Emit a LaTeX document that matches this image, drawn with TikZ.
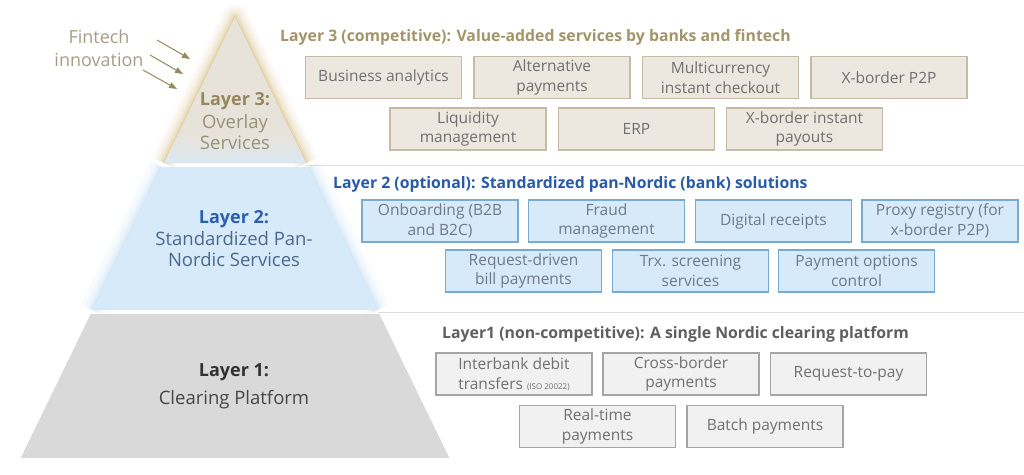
\documentclass[tikz,border=0pt]{standalone}
\usepackage{fontspec}
\setmainfont{Open Sans}
\usetikzlibrary{arrows.meta}
\definecolor{lthreefill}{RGB}{232,227,218}
\definecolor{lthreeglow}{RGB}{210,182,112}
\definecolor{lthreeboxfill}{RGB}{236,232,224}
\definecolor{lthreeboxdraw}{RGB}{196,186,165}
\definecolor{lthreehead}{RGB}{163,148,105}
\definecolor{lthreetitle}{RGB}{150,135,95}
\definecolor{lthreesub}{RGB}{155,145,118}
\definecolor{ltwofill}{RGB}{215,234,249}
\definecolor{ltwoglow}{RGB}{185,218,245}
\definecolor{ltwoboxfill}{RGB}{214,234,250}
\definecolor{ltwoboxdraw}{RGB}{120,170,210}
\definecolor{ltwohead}{RGB}{40,90,170}
\definecolor{ltwotitle}{RGB}{45,95,175}
\definecolor{ltwosub}{RGB}{75,105,140}
\definecolor{lonefill}{RGB}{217,217,217}
\definecolor{loneboxfill}{RGB}{241,241,241}
\definecolor{loneboxdraw}{RGB}{165,165,165}
\definecolor{lonehead}{RGB}{95,95,95}
\definecolor{lonetitle}{RGB}{50,50,50}
\definecolor{lonesub}{RGB}{70,70,70}
\definecolor{boxtext}{RGB}{112,112,112}
\definecolor{ltwoboxtext}{RGB}{110,122,135}
\definecolor{fintechtext}{RGB}{165,158,135}
\definecolor{arrowcol}{RGB}{150,138,95}
\definecolor{sepline}{RGB}{222,222,222}
\tikzset{
  svcbox/.style={rectangle, minimum width=156pt, minimum height=42pt, inner sep=0pt,
    align=center, font=\fontsize{15.5}{19.5}\selectfont, line width=1.2pt},
  lthreebox/.style={svcbox, fill=lthreeboxfill, draw=lthreeboxdraw, text=boxtext},
  ltwobox/.style={svcbox, fill=ltwoboxfill, draw=ltwoboxdraw, text=ltwoboxtext},
  lonebox/.style={svcbox, fill=loneboxfill, draw=loneboxdraw, text=boxtext},
  headtext/.style={anchor=west, inner sep=0pt, font=\fontsize{15.8}{19}\selectfont\bfseries},
  pyrtitle/.style={inner sep=0pt, font=\fontsize{18}{20}\selectfont\bfseries},
  pyrsub/.style={inner sep=0pt, align=center, font=\fontsize{18.5}{20.5}\selectfont},
  innovarrow/.style={draw=arrowcol, line width=1pt, -{Triangle[length=8pt,width=6pt]}}
}
\begin{document}
\begin{tikzpicture}[x=1pt,y=-1pt]
\useasboundingbox (0,0) rectangle (1024,474);
\fill[white] (0,0) rectangle (1024,474);

% separator lines
\draw[sepline, line width=1pt] (306,165) -- (1024,165);
\draw[sepline, line width=1pt] (378,312) -- (1024,312);

% glow layer 3
\foreach \w/\o in {26/0.06,20/0.08,14/0.1,9/0.14,5/0.2,2/0.3}
  \draw[lthreeglow, line width=\w pt, opacity=\o, line join=round]
    (164,163) -- (235,17) -- (306,163);
% glow layer 2
\foreach \w/\o in {26/0.08,18/0.1,12/0.14,7/0.18,3/0.25}
  \draw[ltwoglow, line width=\w pt, opacity=\o]
    (92.6,310) -- (162,167) (308,167) -- (377.4,310);

% layer 3
\fill[lthreefill] (235,17) -- (306,163) -- (164,163) -- cycle;
\begin{scope}
  \clip (235,17) -- (306,163) -- (164,163) -- cycle;
  \shade[top color=lthreefill, bottom color=ltwofill!80!lthreefill] (150,135) rectangle (320,164);
\end{scope}
% layer 2
\fill[ltwofill] (162,167) -- (308,167) -- (377.4,310) -- (92.6,310) -- cycle;
% layer 1
\fill[lonefill] (90.7,314) -- (379.3,314) -- (449.3,458) -- (20.7,458) -- cycle;

% pyramid labels
\node[pyrtitle, text=lthreetitle] (t3) at (235,101) {Layer 3:};
\node[pyrsub, text=lthreesub] (s3) at (235,132) {Overlay\\Services};
\node[pyrtitle, text=ltwotitle] (t2) at (234,219) {Layer 2:};
\node[pyrsub, text=ltwosub] (s2) at (234,249) {Standardized Pan-\\Nordic Services};
\node[pyrtitle, text=lonetitle] (t1) at (234,372) {Layer 1:};
\node[pyrsub, text=lonesub] (s1) at (234,400) {Clearing Platform};

% fintech innovation
\node[pyrsub, text=fintechtext, font=\fontsize{18}{23}\selectfont] (fin) at (99,48) {Fintech\\innovation};
\coordinate (a1s) at (157,40); \coordinate (a1e) at (190,59);
\coordinate (a2s) at (150,55); \coordinate (a2e) at (183,74);
\coordinate (a3s) at (143,70); \coordinate (a3e) at (177,89);
\draw[innovarrow] (a1s) -- (a1e);
\draw[innovarrow] (a2s) -- (a2e);
\draw[innovarrow] (a3s) -- (a3e);

% headers
\node[headtext, text=lthreehead] (h3) at (280,37) {Layer 3 (competitive): Value-added services by banks and fintech};
\node[headtext, text=ltwohead] (h2) at (333,184) {Layer 2 (optional): Standardized pan-Nordic (bank) solutions};
\node[headtext, text=lonehead] (h1) at (442,334) {Layer1 (non-competitive): A single Nordic clearing platform};

% layer 3 boxes
\node[lthreebox] (b31) at (383.5,77.5) {Business analytics};
\node[lthreebox] (b32) at (552,77.5) {Alternative\\payments};
\node[lthreebox] (b33) at (720.5,77.5) {Multicurrency\\instant checkout};
\node[lthreebox] (b34) at (889,77.5) {X-border P2P};
\node[lthreebox] (b35) at (468,129) {Liquidity\\management};
\node[lthreebox] (b36) at (636.5,129) {ERP};
\node[lthreebox] (b37) at (804.5,129) {X-border instant\\payouts};

% layer 2 boxes
\node[ltwobox] (b21) at (440,221) {Onboarding (B2B\\and B2C)};
\node[ltwobox] (b22) at (606.5,221) {Fraud\\management};
\node[ltwobox] (b23) at (773.5,221) {Digital receipts};
\node[ltwobox] (b24) at (940,221) {Proxy registry (for\\x-border P2P)};
\node[ltwobox] (b25) at (523.5,271) {Request-driven\\bill payments};
\node[ltwobox] (b26) at (690.5,271) {Trx. screening\\services};
\node[ltwobox] (b27) at (856.5,271) {Payment options\\control};

% layer 1 boxes
\node[lonebox] (b11) at (514,374) {Interbank debit\\transfers {\fontsize{8}{10}\selectfont(ISO 20022)}};
\node[lonebox] (b12) at (681,374) {Cross-border\\payments};
\node[lonebox] (b13) at (848.5,374) {Request-to-pay};
\node[lonebox] (b14) at (597.5,426.5) {Real-time\\payments};
\node[lonebox] (b15) at (765,426.5) {Batch payments};
\end{tikzpicture}
\end{document}
